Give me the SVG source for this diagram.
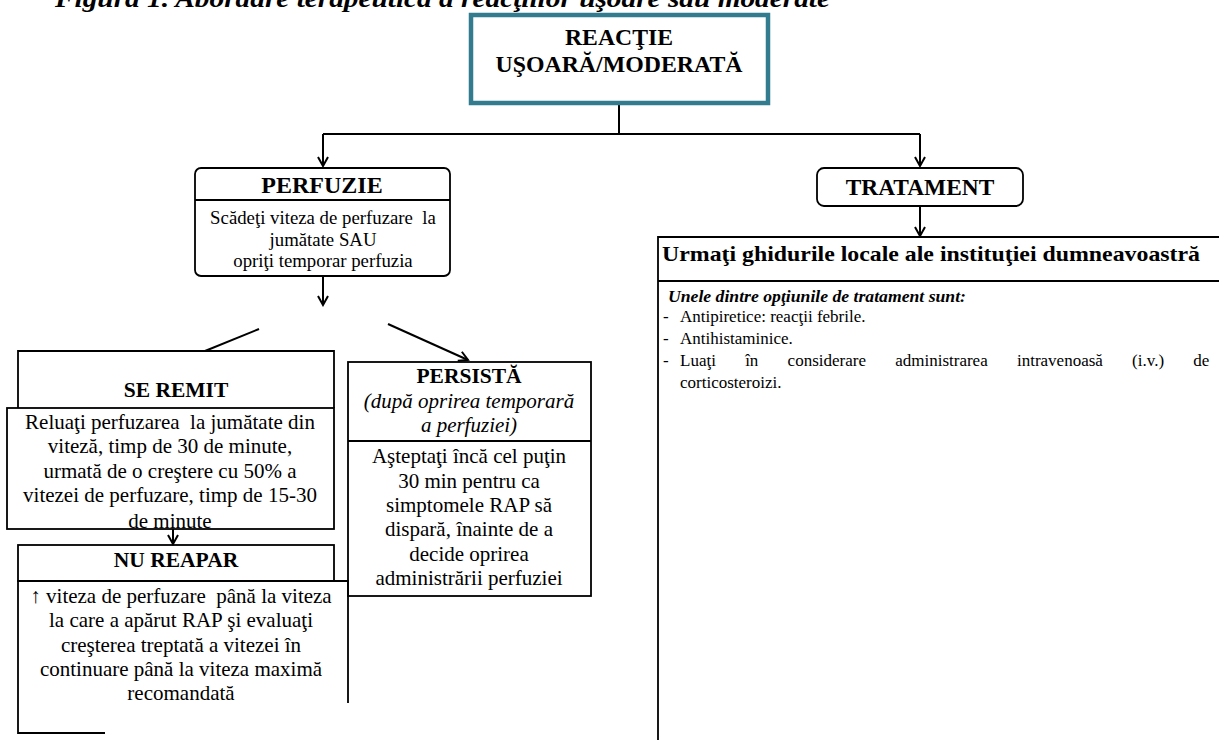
<svg xmlns="http://www.w3.org/2000/svg" width="1219" height="740" viewBox="0 0 1219 740">
<defs>
<marker id="arr" markerWidth="12" markerHeight="12" refX="10" refY="6" orient="auto" markerUnits="userSpaceOnUse">
<path d="M1,1 L10,6 L1,11" fill="none" stroke="#000" stroke-width="2"/>
</marker>
<style>
.t{font-family:"Liberation Serif","Times New Roman",serif;fill:#000}
.b{font-weight:bold}
.i{font-style:italic}
.c{text-anchor:middle}
.box{fill:none;stroke:#000;stroke-width:1.8}
.ln{fill:none;stroke:#000;stroke-width:2}
.s21{font-size:21px}
</style>
</defs>
<rect width="1219" height="740" fill="#fff"/>

<text class="t b i" x="55" y="7" font-size="26" textLength="775" lengthAdjust="spacingAndGlyphs">Figura 1. Abordare terapeutică a reacţiilor uşoare sau moderate</text>

<g id="connectors">
<polyline class="ln" points="619,105 619,134"/>
<polyline class="ln" points="323,134 920,134"/>
<line class="ln" x1="323" y1="134" x2="323" y2="166" marker-end="url(#arr)"/>
<line class="ln" x1="920" y1="134" x2="920" y2="166" marker-end="url(#arr)"/>
<line class="ln" x1="323" y1="276" x2="323" y2="305" marker-end="url(#arr)"/>
<line class="ln" x1="259" y1="329" x2="205" y2="351"/>
<line class="ln" x1="388" y1="324" x2="468" y2="360" marker-end="url(#arr)"/>
<line class="ln" x1="173" y1="529" x2="173" y2="544" marker-end="url(#arr)"/>
<line class="ln" x1="920" y1="206" x2="920" y2="236" marker-end="url(#arr)"/>
</g>

<g id="reactie">
<rect x="471" y="15" width="297" height="88" fill="#fff" stroke="#337B8E" stroke-width="4.5"/>
<text class="t b c" x="619" y="45" font-size="24" textLength="108" lengthAdjust="spacingAndGlyphs">REACŢIE</text>
<text class="t b c" x="619" y="72" font-size="24" textLength="247" lengthAdjust="spacingAndGlyphs">UŞOARĂ/MODERATĂ</text>
</g>

<g id="perfuzie">
<rect class="box" x="195" y="168" width="255" height="108" rx="6"/>
<line class="box" x1="195" y1="200" x2="450" y2="200"/>
<text class="t b c" x="322" y="193" font-size="24">PERFUZIE</text>
<text class="t c" x="323" y="224" font-size="18.8" xml:space="preserve">Scădeţi viteza de perfuzare  la</text>
<text class="t c" x="323" y="246" font-size="18.8">jumătate SAU</text>
<text class="t c" x="323" y="267" font-size="18.8">opriţi temporar perfuzia</text>
</g>

<g id="se-remit">
<polyline class="box" points="18,408 18,351 334,351 334,408"/>
<rect class="box" x="7" y="408" width="327" height="121"/>
<text class="t b c" x="176" y="397" font-size="21.5">SE REMIT</text>
<text class="t c s21" x="170" y="429" xml:space="preserve">Reluaţi perfuzarea  la jumătate din</text>
<text class="t c s21" x="170" y="453">viteză, timp de 30 de minute,</text>
<text class="t c s21" x="170" y="478">urmată de o creştere cu 50% a</text>
<text class="t c s21" x="170" y="502">vitezei de perfuzare, timp de 15-30</text>
<text class="t c s21" x="170" y="528">de minute</text>
</g>

<g id="nu-reapar">
<rect class="box" x="18" y="545" width="316" height="36"/>
<text class="t b c" x="176" y="567" font-size="21.5">NU REAPAR</text>
<polyline class="box" points="105,733 18,733 18,581 348,581 348,703"/>
<text class="t c s21" x="181" y="603" xml:space="preserve">↑ viteza de perfuzare  până la viteza</text>
<text class="t c s21" x="181" y="627">la care a apărut RAP şi evaluaţi</text>
<text class="t c s21" x="181" y="652">creşterea treptată a vitezei în</text>
<text class="t c s21" x="181" y="676">continuare până la viteza maximă</text>
<text class="t c s21" x="181" y="700">recomandată</text>
</g>

<g id="persista">
<rect class="box" x="348" y="362" width="243" height="234"/>
<line class="box" x1="348" y1="441" x2="591" y2="441"/>
<text class="t b c" x="469" y="383" font-size="21.5">PERSISTĂ</text>
<text class="t i c s21" x="469" y="408">(după oprirea temporară</text>
<text class="t i c s21" x="469" y="432">a perfuziei)</text>
<text class="t c s21" x="469" y="463">Aşteptaţi încă cel puţin</text>
<text class="t c s21" x="469" y="488">30 min pentru ca</text>
<text class="t c s21" x="469" y="512">simptomele RAP să</text>
<text class="t c s21" x="469" y="536">dispară, înainte de a</text>
<text class="t c s21" x="469" y="561">decide oprirea</text>
<text class="t c s21" x="469" y="585">administrării perfuziei</text>
</g>

<g id="tratament">
<rect class="box" x="817" y="168" width="206" height="38" rx="7"/>
<text class="t b c" x="920" y="195" font-size="23.4">TRATAMENT</text>
</g>

<g id="ghiduri">
<polyline class="box" points="1221,237 658,237 658,740"/>
<line class="box" x1="658" y1="281" x2="1221" y2="281"/>
<text class="t b" x="662" y="261" font-size="21" textLength="538" lengthAdjust="spacingAndGlyphs">Urmaţi ghidurile locale ale instituţiei dumneavoastră</text>
<text class="t b i" x="668" y="302" font-size="17" textLength="298" lengthAdjust="spacingAndGlyphs">Unele dintre opţiunile de tratament sunt:</text>
<text class="t" x="663" y="322" font-size="17">-</text>
<text class="t" x="680" y="322" font-size="17">Antipiretice: reacţii febrile.</text>
<text class="t" x="663" y="344" font-size="17">-</text>
<text class="t" x="680" y="344" font-size="17">Antihistaminice.</text>
<text class="t" x="663" y="366" font-size="17">-</text>
<text class="t" x="680" y="366" font-size="17" word-spacing="25">Luaţi în considerare administrarea intravenoasă (i.v.) de</text>
<text class="t" x="680" y="388" font-size="17">corticosteroizi.</text>
</g>
</svg>
